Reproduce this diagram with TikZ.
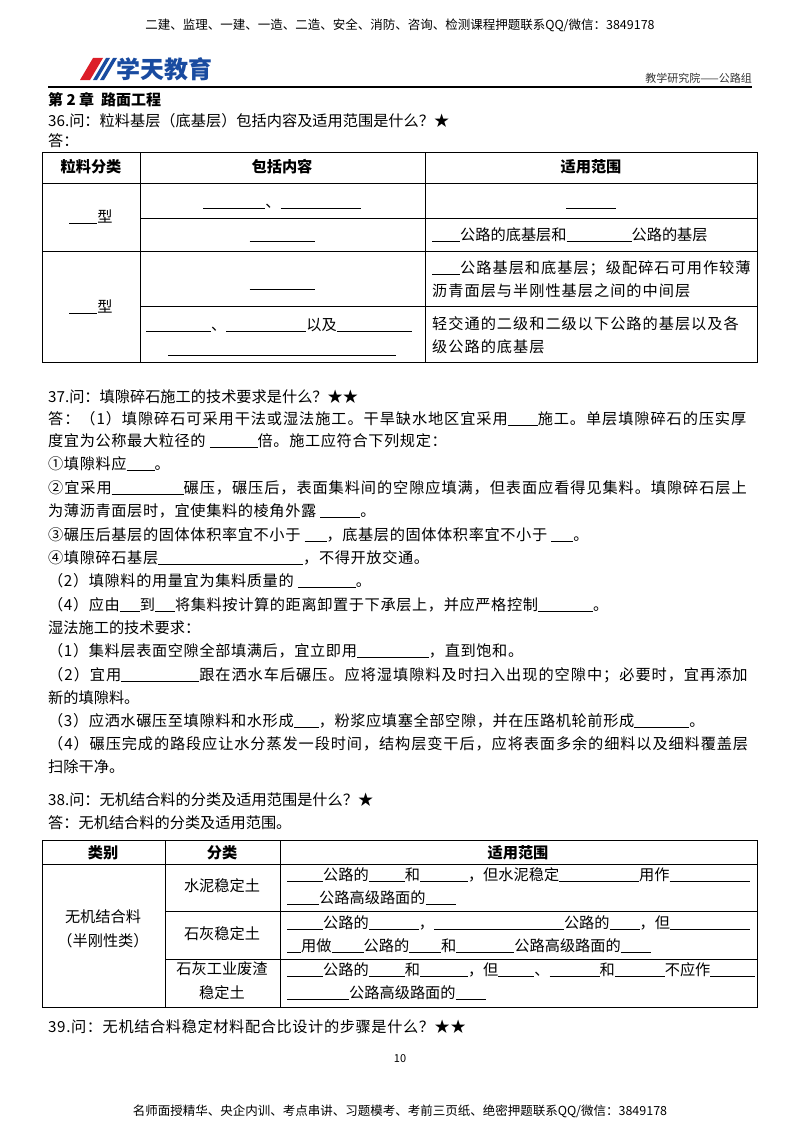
\documentclass[tikz,border=0pt]{standalone}
\usepackage{fontspec}
\setmainfont{Noto Sans CJK SC}
\newcommand\bl[1]{\rule[-2pt]{#1pt}{0.7pt}}
\newcommand\fl[2]{{\addfontfeature{LetterSpace=#1}#2}}
\definecolor{logoblue}{RGB}{25,75,160}
\definecolor{logored}{RGB}{220,30,40}
\begin{document}
\begin{tikzpicture}[x=1pt,y=-1pt,
  t/.style={anchor=base west,inner sep=0pt,font=\fontsize{15.2}{17}\selectfont},
  tc/.style={anchor=base,inner sep=0pt,font=\fontsize{15.2}{17}\selectfont},
  th/.style={anchor=base,inner sep=0pt,font=\fontsize{15.2}{17}\selectfont\bfseries},
  grid/.style={line width=0.6pt}]
\useasboundingbox (0,0) rectangle (800,1132);
% header
\node[tc,font=\fontsize{12.5}{14}\selectfont] (hd) at (400,30) {二建、监理、一建、一造、二造、安全、消防、咨询、检测课程押题联系QQ/微信：3849178};
\fill[logored] (80,80) -- (93,58) -- (103,58) -- (90,80) -- cycle;
\fill[logoblue] (93,80) -- (106,58) -- (110,58) -- (97,80) -- cycle;
\fill[logoblue] (100,80) -- (113,58) -- (117,58) -- (104,80) -- cycle;
\node[anchor=west,inner sep=0pt,text=logoblue,font=\fontsize{24}{26}\selectfont\bfseries] (logo) at (116,69) {学天教育};
\node[anchor=base east,inner sep=0pt,font=\fontsize{11}{13}\selectfont,text=black!80] (grp) at (752,82) {教学研究院——公路组};
\draw[line width=1.4pt] (48,87) -- (752,87);
\node[t,font=\fontsize{15}{17}\selectfont\bfseries] (ch) at (48,105) {第 2 章\ \ 路面工程};
\node[t] (q36) at (48,126) {36.问：粒料基层（底基层）包括内容及适用范围是什么？★};
\node[t] (a36) at (48,146) {答：};
% table 1
\draw[grid] (42,152) rectangle (757,362);
\draw[grid] (140,152) -- (140,362) (425,152) -- (425,362);
\draw[grid] (42,183) -- (757,183) (42,251) -- (757,251);
\draw[grid] (140,218) -- (757,218) (140,306) -- (757,306);
\node[th] (h1) at (91,172) {粒料分类};
\node[th] (h2) at (282,172) {包括内容};
\node[th] (h3) at (591,172) {适用范围};
\node[tc] (c1) at (91,222) {\bl{28}型};
\node[tc] (c2) at (91,312) {\bl{28}型};
\node[tc] (r1a) at (282,207) {\bl{62}、\bl{80}};
\node[tc] (r1b) at (282,240) {\bl{65}};
\node[tc] (r2a) at (282,288) {\bl{65}};
\node[t] (r2b) at (146,330) {\bl{65}、\bl{80}以及\bl{75}};
\node[tc] (r2c) at (282,354) {\bl{228}};
\node[tc] (s1a) at (591,207) {\bl{50}};
\node[t] (s1b) at (432,240) {\bl{28}公路的底基层和\bl{65}公路的基层};
\node[t] (s2a) at (432,273) {\fl{6.5}{\bl{28}公路基层和底基层；级配碎石可用作较薄}};
\node[t] (s2b) at (432,296) {\fl{6.5}{沥青面层与半刚性基层之间的中间层}};
\node[t] (s3a) at (432,329) {\fl{6.5}{轻交通的二级和二级以下公路的基层以及各}};
\node[t] (s3b) at (432,352) {\fl{6.5}{级公路的底基层}};
% 37
\node[t] (q37) at (48,402) {37.问：填隙碎石施工的技术要求是什么？★★};
\node[t] (l2) at (48,424) {\fl{6}{答：（1）填隙碎石可采用干法或湿法施工。干旱缺水地区宜采用\bl{30}施工。单层填隙碎石的压实厚}};
\node[t] (l3) at (48,446) {\fl{4}{度宜为公称最大粒径的 \bl{48}倍。施工应符合下列规定：}};
\node[t] (l4) at (48,469) {\fl{4}{①填隙料应\bl{28}。}};
\node[t] (l5) at (48,493) {\fl{6}{②宜采用\bl{72}碾压，碾压后，表面集料间的空隙应填满，但表面应看得见集料。填隙碎石层上}};
\node[t] (l6) at (48,516) {\fl{4}{为薄沥青面层时，宜使集料的棱角外露 \bl{40}。}};
\node[t] (l7) at (48,540) {\fl{4}{③碾压后基层的固体体积率宜不小于 \bl{22}，底基层的固体体积率宜不小于 \bl{22}。}};
\node[t] (l8) at (48,563) {\fl{4}{④填隙碎石基层\bl{145}，不得开放交通。}};
\node[t] (l9) at (48,586) {\fl{4}{（2）填隙料的用量宜为集料质量的 \bl{58}。}};
\node[t] (l10) at (48,610) {\fl{4}{（4）应由\bl{20}到\bl{20}将集料按计算的距离卸置于下承层上，并应严格控制\bl{55}。}};
\node[t] (l11) at (48,633) {湿法施工的技术要求：};
\node[t] (l12) at (48,656) {\fl{4}{（1）集料层表面空隙全部填满后，宜立即用\bl{72}，直到饱和。}};
\node[t] (l13) at (48,680) {\fl{6.3}{（2）宜用\bl{78}跟在洒水车后碾压。应将湿填隙料及时扫入出现的空隙中；必要时，宜再添加}};
\node[t] (l14) at (48,703) {新的填隙料。};
\node[t] (l15) at (48,726) {\fl{4}{（3）应洒水碾压至填隙料和水形成\bl{25}，粉浆应填塞全部空隙，并在压路机轮前形成\bl{55}。}};
\node[t] (l16) at (48,749) {\fl{5.8}{（4）碾压完成的路段应让水分蒸发一段时间，结构层变干后，应将表面多余的细料以及细料覆盖层}};
\node[t] (l17) at (48,772) {扫除干净。};
% 38
\node[t] (q38) at (48,805) {38.问：无机结合料的分类及适用范围是什么？★};
\node[t] (a38) at (48,828) {答：无机结合料的分类及适用范围。};
% table 2
\draw[grid] (42,840) rectangle (757,1007);
\draw[grid] (165,840) -- (165,1007) (280,840) -- (280,1007);
\draw[grid] (42,864) -- (757,864);
\draw[grid] (165,911) -- (757,911) (165,959) -- (757,959);
\node[th] (g1) at (103,858) {类别};
\node[th] (g2) at (222,858) {分类};
\node[th] (g3) at (518,858) {适用范围};
\node[tc] (k1) at (103,922) {无机结合料};
\node[tc] (k2) at (103,946) {（半刚性类）};
\node[tc] (f1) at (222,891) {水泥稳定土};
\node[tc] (f2) at (222,939) {石灰稳定土};
\node[tc] (f3a) at (222,974) {石灰工业废渣};
\node[tc] (f3b) at (222,998) {稳定土};
\node[t] (u1a) at (287,880) {\bl{36}公路的\bl{36}和\bl{48}，但水泥稳定\bl{80}用作\bl{80}};
\node[t] (u1b) at (287,903) {\bl{32}公路高级路面的\bl{30}};
\node[t] (u2a) at (287,928) {\bl{36}公路的\bl{50}，\bl{130}公路的\bl{30}，但\bl{80}};
\node[t] (u2b) at (287,951) {\bl{14}用做\bl{32}公路的\bl{32}和\bl{58}公路高级路面的\bl{30}};
\node[t] (u3a) at (287,975) {\bl{36}公路的\bl{36}和\bl{48}，但\bl{36}、\bl{50}和\bl{50}不应作\bl{45}};
\node[t] (u3b) at (287,998) {\bl{62}公路高级路面的\bl{30}};
% 39
\node[t] (q39) at (48,1032) {\fl{4}{39.问：无机结合料稳定材料配合比设计的步骤是什么？★★}};
\node[tc,font=\fontsize{11}{13}\selectfont] (pg) at (400,1062) {10};
\node[tc,font=\fontsize{12.5}{14}\selectfont] (ft) at (400,1115) {名师面授精华、央企内训、考点串讲、习题模考、考前三页纸、绝密押题联系QQ/微信：3849178};
\end{tikzpicture}
\end{document}
